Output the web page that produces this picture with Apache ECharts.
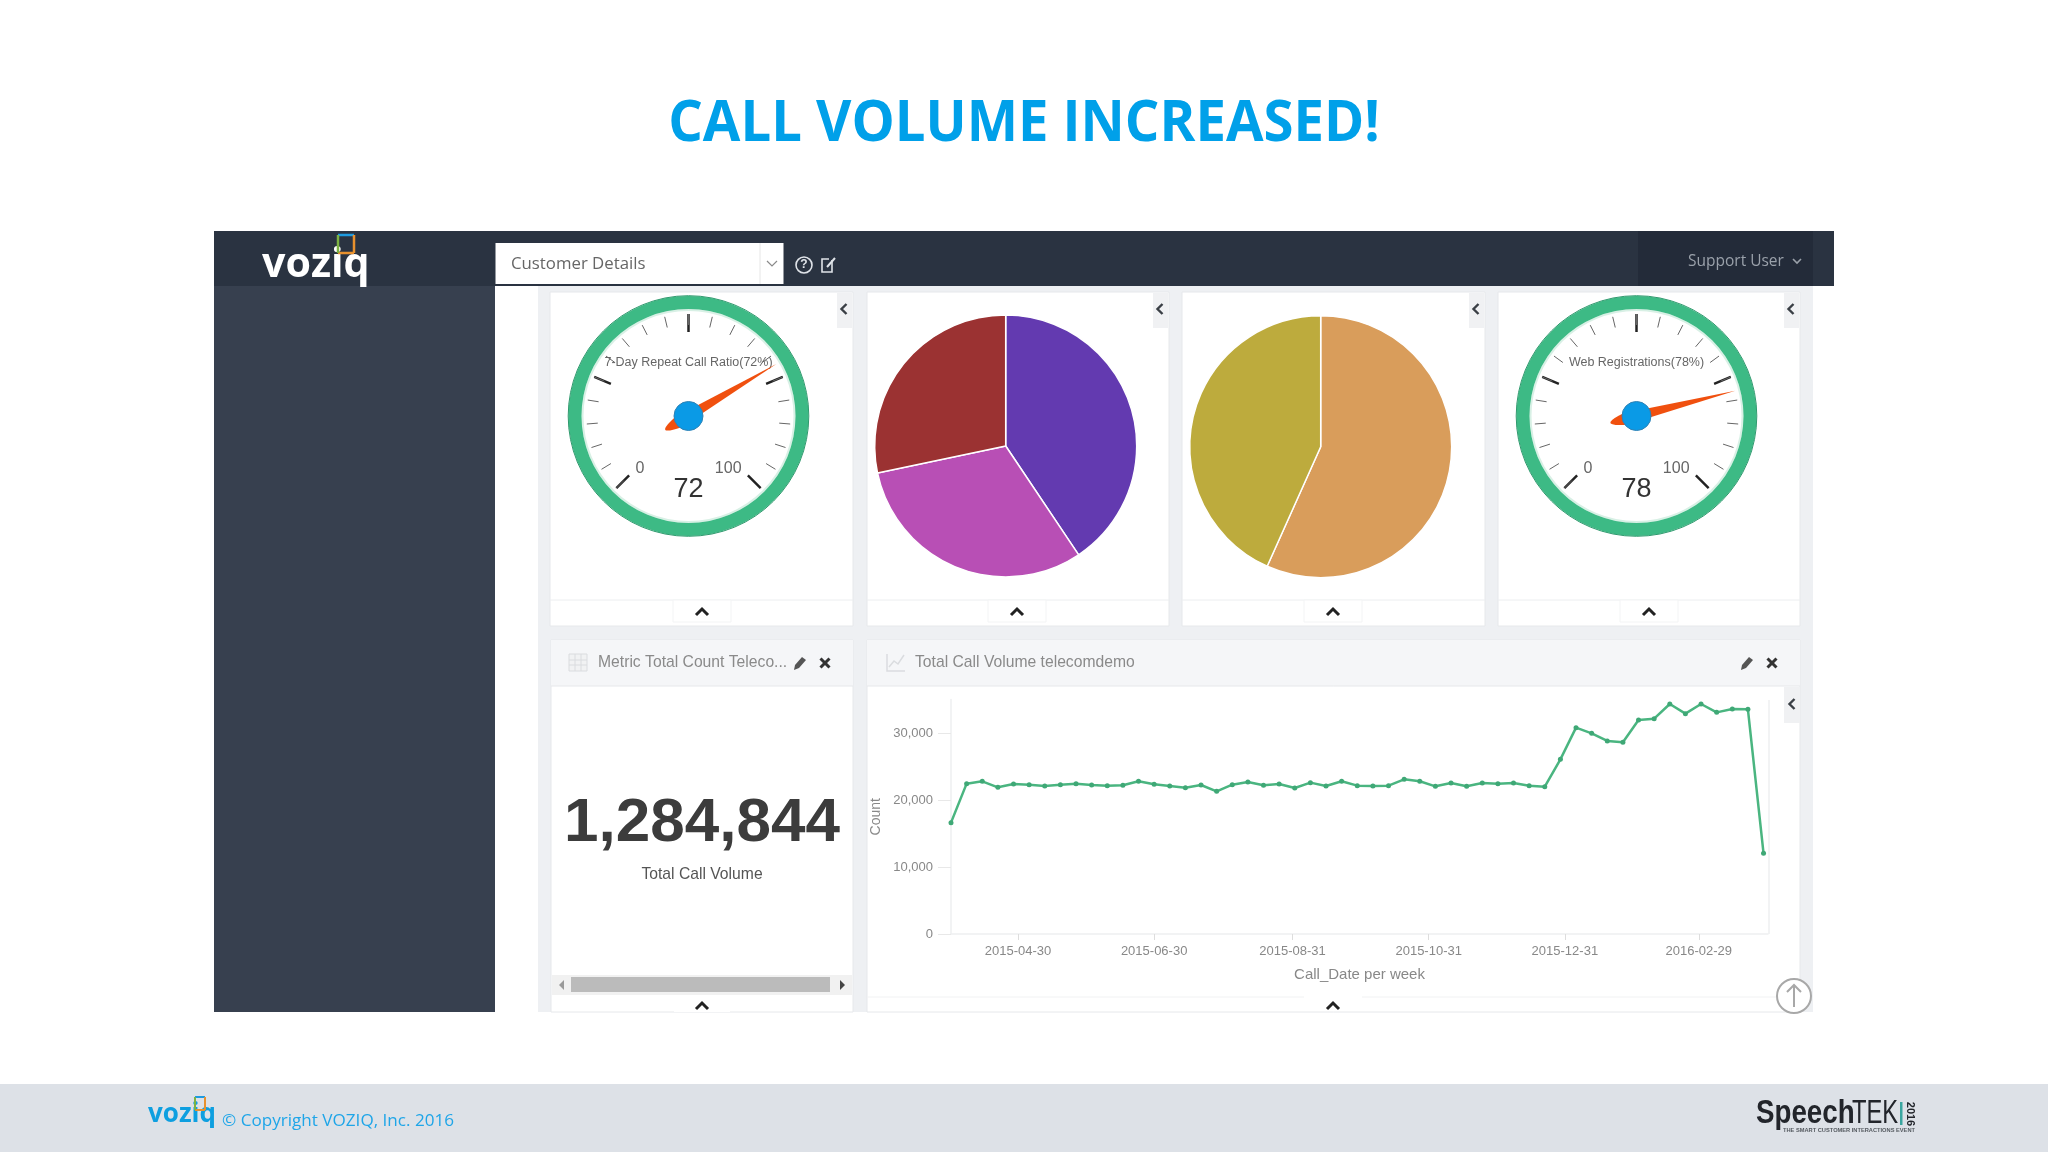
<!DOCTYPE html>
<html>
<head>
<meta charset="utf-8">
<title>Call Volume Increased</title>
<style>
    html, body { margin: 0; padding: 0; background: #fff; }
    #main { width: 2048px; height: 1152px; }
</style>
</head>
<body>
<div id="main"></div>
<script src="https://cdn.jsdelivr.net/npm/echarts@6/dist/echarts.min.js"></script>
<script>
    // weekly call counts
    var callDates = [
        '2015-03-31', '2015-04-07', '2015-04-14', '2015-04-21', '2015-04-28', '2015-05-05', '2015-05-12', '2015-05-19', '2015-05-26',
        '2015-06-02', '2015-06-09', '2015-06-16', '2015-06-23', '2015-06-30', '2015-07-07', '2015-07-14', '2015-07-21', '2015-07-28',
        '2015-08-04', '2015-08-11', '2015-08-18', '2015-08-25', '2015-09-01', '2015-09-08', '2015-09-15', '2015-09-22', '2015-09-29',
        '2015-10-06', '2015-10-13', '2015-10-20', '2015-10-27', '2015-11-03', '2015-11-10', '2015-11-17', '2015-11-24', '2015-12-01',
        '2015-12-08', '2015-12-15', '2015-12-22', '2015-12-29', '2016-01-05', '2016-01-12', '2016-01-19', '2016-01-26', '2016-02-02',
        '2016-02-09', '2016-02-16', '2016-02-23', '2016-03-01', '2016-03-08', '2016-03-15', '2016-03-22', '2016-03-29'
    ];
    var callCounts = [
        16620, 22440, 22790, 21890, 22390, 22290, 22090, 22290, 22440,
        22240, 22140, 22190, 22790, 22340, 22090, 21840, 22240, 21290,
        22290, 22690, 22190, 22390, 21790, 22590, 22090, 22790, 22140,
        22090, 22140, 23090, 22790, 22040, 22540, 22040, 22540, 22440,
        22540, 22140, 21990, 26070, 30800, 29950, 28810, 28610, 31940,
        32140, 34330, 32890, 34330, 33080, 33580, 33530, 12040
    ];
    var tickDates = ['2015-04-30', '2015-06-30', '2015-08-31', '2015-10-31', '2015-12-31', '2016-02-29'];
    var axisStart = '2015-03-31';
    var axisEnd = '2016-03-31';

    // gauges
    var gaugeNames = ['7-Day Repeat Call Ratio(72%)', 'Web Registrations(78%)'];
    var gaugeValues = [72, 78];
    var gaugeCenters = [[688.5, 416], [1636.5, 416]];

    // pies
    var pieLeftNames = ['Segment A', 'Segment B', 'Segment C'];
    var pieLeftValues = [40.6, 31.1, 28.3];
    var pieLeftColors = ['#633ab0', '#b84fb5', '#9b3232'];
    var pieRightNames = ['Segment A', 'Segment B'];
    var pieRightValues = [56.7, 43.3];
    var pieRightColors = ['#d99d5b', '#bdab3d'];

    var metricValue = '1,284,844';
    var metricLabel = 'Total Call Volume';

    var fontArial = '"Liberation Sans", Arial, sans-serif';
    var fontOpen = '"Open Sans", sans-serif';
    var chart = echarts.init(document.getElementById('main'), null, { renderer: 'canvas' });
    var g = [];

    function toTime(d) {
        return +echarts.time.parse(d);
    }
    function box(x, y, w, h, fill, stroke) {
        g.push({ type: 'rect', silent: true, shape: { x: x, y: y, width: w, height: h }, style: { fill: fill, stroke: stroke || null, lineWidth: 1 } });
    }
    function line(x1, y1, x2, y2, color, width) {
        g.push({ type: 'line', silent: true, shape: { x1: x1, y1: y1, x2: x2, y2: y2 }, style: { stroke: color, lineWidth: width || 1 } });
    }
    function poly(points, color, width) {
        g.push({ type: 'polyline', silent: true, shape: { points: points }, style: { stroke: color, lineWidth: width || 2, fill: null } });
    }
    function text(str, x, y, size, color, opt) {
        opt = opt || {};
        g.push({
            type: 'text', silent: true, x: x, y: y, scaleX: opt.scaleX || 1, rotation: opt.rotation || 0,
            style: {
                text: str, fill: color, align: opt.align || 'left', verticalAlign: 'middle',
                fontSize: size, fontFamily: opt.font || fontArial, fontWeight: opt.weight || 'normal'
            }
        });
    }
    function chevronLeft(x, y) {
        poly([[x + 2.5, y - 5], [x - 2.5, y], [x + 2.5, y + 5]], '#3a3f45', 2.4);
    }
    function chevronUp(x, y) {
        poly([[x - 6, y + 3], [x, y - 3], [x + 6, y + 3]], '#222', 3);
    }
    function pencil(x, y) {
        g.push({
            type: 'polygon', silent: true,
            shape: { points: [[x - 6, y + 7], [x - 5, y + 2], [x + 2, y - 6], [x + 6, y - 3], [x - 1, y + 5]] },
            style: { fill: '#555' }
        });
    }
    function cross(x, y) {
        line(x - 4.5, y - 4.5, x + 4.5, y + 4.5, '#333', 3);
        line(x + 4.5, y - 4.5, x - 4.5, y + 4.5, '#333', 3);
    }
    function logoMark(x, y, w, h, lw) {
        line(x, y, x + w, y, '#1e9be0', lw);
        line(x + w, y, x + w, y + h, '#e8912e', lw);
        line(x + w, y + h, x, y + h, '#e8912e', lw);
        line(x, y + h, x, y, '#7cb342', lw);
    }

    // slide title
    text('CALL VOLUME INCREASED!', 1024, 125, 57, '#00a0e9', { align: 'center', font: fontOpen, weight: 'bold', scaleX: 0.955 });

    // dashboard frame
    box(538, 286, 275, 726, '#eef0f3');
    box(813, 286, 1000, 726, '#eef0f3');
    box(214, 231, 281, 781, '#37404f');
    box(214, 231, 1620, 55, '#2a3341');
    box(1638, 231, 175, 55, '#232b39');
    text('voziq', 262, 265, 42, '#ffffff', { font: fontOpen, weight: 'bold', scaleX: 0.98 });
    logoMark(338, 235, 16, 18, 2.5);
    box(495.5, 243, 288, 41, '#ffffff');
    line(760, 243, 760, 284, '#e6e6e6', 1);
    text('Customer Details', 511, 264, 16.8, '#666666', { font: fontOpen });
    poly([[767, 261], [772, 266], [777, 261]], '#8a8a8a', 1.2);
    g.push({ type: 'circle', silent: true, shape: { cx: 804, cy: 265, r: 8 }, style: { fill: null, stroke: '#dfe3e8', lineWidth: 1.6 } });
    text('?', 804, 265, 12, '#dfe3e8', { align: 'center', weight: 'bold' });
    poly([[832, 260], [832, 272], [822, 272], [822, 259], [829, 259]], '#dfe3e8', 1.6);
    line(827, 267, 835, 258, '#dfe3e8', 2);
    text('Support User', 1688, 262, 15.5, '#9aa1aa', { font: fontOpen });
    poly([[1793, 259], [1797, 263], [1801, 259]], '#9aa1aa', 1.6);

    // top row panels
    var topPanels = [[550, 303], [867, 302], [1182, 303], [1498, 302]];
    var topChevrons = [702, 1017, 1333, 1649];
    for (var i = 0; i < topPanels.length; i++) {
        var px = topPanels[i][0], pw = topPanels[i][1];
        box(px, 292, pw, 334, '#ffffff', '#e6e8eb');
        line(px, 600, px + pw, 600, '#eceef0', 1);
        box(topChevrons[i] - 29, 600, 58, 22, '#ffffff', '#f3f4f5');
        chevronUp(topChevrons[i], 612);
        box(px + pw - 16, 293, 15, 35, '#f0f1f3');
        chevronLeft(px + pw - 9, 309);
    }

    // metric panel
    box(551, 640, 302, 372, '#ffffff', '#e6e8eb');
    box(551, 640, 302, 46, '#f5f6f8');
    line(551, 686, 853, 686, '#e6e8eb', 1);
    box(569, 654, 18, 17, '#f1f2f3', '#dadcdf');
    line(569, 660, 587, 660, '#dadcdf', 1);
    line(569, 665, 587, 665, '#dadcdf', 1);
    line(575, 654, 575, 671, '#dadcdf', 1);
    line(581, 654, 581, 671, '#dadcdf', 1);
    text('Metric Total Count Teleco...', 598, 663, 15.7, '#8a8a8a');
    pencil(800, 663);
    cross(825, 663);
    text(metricValue, 702, 824, 62, '#3c3c3c', { align: 'center', weight: 'bold' });
    text(metricLabel, 702, 875, 15.7, '#555555', { align: 'center' });
    box(552, 975, 300, 20, '#f1f1f1');
    box(571, 977, 259, 15, '#bbbbbb');
    g.push({ type: 'polygon', silent: true, shape: { points: [[564, 980], [564, 990], [559, 985]] }, style: { fill: '#9a9a9a' } });
    g.push({ type: 'polygon', silent: true, shape: { points: [[840, 980], [840, 990], [845, 985]] }, style: { fill: '#444444' } });
    box(674, 995, 56, 17, '#ffffff');
    chevronUp(702, 1006);

    // line chart panel
    box(867, 640, 933, 372, '#ffffff', '#e6e8eb');
    box(867, 640, 933, 46, '#f5f6f8');
    line(867, 686, 1800, 686, '#e6e8eb', 1);
    poly([[887, 654], [887, 671], [905, 671]], '#dadcdf', 1.5);
    poly([[889, 667], [894, 661], [898, 664], [904, 655]], '#dadcdf', 1.5);
    text('Total Call Volume telecomdemo', 915, 663, 15.7, '#8a8a8a');
    pencil(1747, 663);
    cross(1772, 663);
    box(1784, 687, 16, 36, '#f0f1f3');
    chevronLeft(1792, 704);
    line(867, 997, 1304, 997, '#f1f2f3', 1);
    line(1362, 997, 1800, 997, '#f1f2f3', 1);
    chevronUp(1333, 1006);
    line(1769, 700, 1769, 934, '#eeeff1', 1.5);
    g.push({ type: 'circle', silent: true, shape: { cx: 1794, cy: 996, r: 17 }, style: { fill: '#ffffff', stroke: '#a8a8a8', lineWidth: 2 } });
    poly([[1794, 1007], [1794, 985]], '#a8a8a8', 2);
    poly([[1787, 992], [1794, 985], [1801, 992]], '#a8a8a8', 2);

    // gauge rims, the needle and ticks sit on top of these
    for (var k = 0; k < gaugeCenters.length; k++) {
        g.push({
            type: 'ring', silent: true,
            shape: { cx: gaugeCenters[k][0], cy: gaugeCenters[k][1], r: 107, r0: 105 },
            style: { fill: '#d8f0e5' }
        });
        g.push({
            type: 'ring', silent: true,
            shape: { cx: gaugeCenters[k][0], cy: gaugeCenters[k][1], r: 120, r0: 107 },
            style: { fill: '#3dba85' }
        });
        g.push({
            type: 'circle', silent: true,
            shape: { cx: gaugeCenters[k][0], cy: gaugeCenters[k][1], r: 120.3 },
            style: { fill: null, stroke: '#2f9a6e', lineWidth: 1 }
        });
    }

    // footer band
    box(0, 1084, 2048, 68, '#dde1e7');
    text('voziq', 148, 1115, 26, '#0e9fe0', { font: fontOpen, weight: 'bold' });
    logoMark(195, 1097, 10, 13, 2);
    text('\u00a9 Copyright VOZIQ, Inc. 2016', 222, 1121, 17.1, '#1ea5e8', { font: fontOpen });
    text('Speech', 1756, 1114, 33, '#22252b', { weight: 'bold', scaleX: 0.84 });
    text('TEK', 1852, 1114, 33, '#22252b', { scaleX: 0.72 });
    box(1900, 1102, 2.5, 23, '#3aa6a0');
    text('2016', 1910, 1114, 11, '#22252b', { align: 'center', weight: 'bold', rotation: -Math.PI / 2 });
    text('THE SMART CUSTOMER INTERACTIONS EVENT', 1783, 1130, 5.7, '#555a60', { weight: 'bold' });

    function gaugeSeries(idx) {
        return {
            type: 'gauge',
            center: gaugeCenters[idx],
            radius: 102,
            min: 0,
            max: 100,
            startAngle: 225,
            endAngle: -45,
            splitNumber: 4,
            silent: true,
            animation: false,
            axisLine: { show: false, lineStyle: { width: 0 } },
            splitLine: { distance: 0, length: 18, lineStyle: { color: '#222222', width: 2.5 } },
            axisTick: { distance: 0, splitNumber: 5, length: 11, lineStyle: { color: '#666666', width: 1 } },
            axisLabel: {
                distance: 9,
                padding: [6, 0, 0, 0],
                fontSize: 16,
                color: '#666666',
                fontFamily: fontArial,
                formatter: function (v) { return v === 0 || v === 100 ? String(v) : ''; }
            },
            pointer: {
                icon: 'path://M50 0 L100 79 Q50 100 0 79 Z',
                length: 129,
                width: 12,
                offsetCenter: [0, 27],
                itemStyle: { color: '#f0500f' }
            },
            anchor: {
                show: true,
                showAbove: true,
                size: 29,
                icon: 'circle',
                itemStyle: { color: '#0a9ae6', borderColor: '#2f82b5', borderWidth: 1 }
            },
            title: { offsetCenter: [0, -53], fontSize: 12.5, color: '#666666', fontFamily: fontArial },
            detail: { offsetCenter: [0, 74], fontSize: 27, fontWeight: 'normal', color: '#333333', fontFamily: fontArial, formatter: '{value}', valueAnimation: false },
            data: [{ value: gaugeValues[idx], name: gaugeNames[idx] }]
        };
    }

    function pieSeries(center, names, values, colors) {
        return {
            type: 'pie',
            center: center,
            radius: 131,
            startAngle: 90,
            clockwise: true,
            silent: true,
            animation: false,
            label: { show: false },
            labelLine: { show: false },
            itemStyle: { borderColor: '#ffffff', borderWidth: 1.5 },
            data: names.map(function (n, i) {
                return { name: n, value: values[i], itemStyle: { color: colors[i] } };
            })
        };
    }

    var option = {
        backgroundColor: '#ffffff',
        animation: false,
        textStyle: { fontFamily: fontArial },
        graphic: { elements: g },
        grid: { left: 951, width: 817, top: 699.5, height: 234.5 },
        xAxis: {
            type: 'value',
            min: toTime(axisStart),
            max: toTime(axisEnd),
            name: 'Call_Date per week',
            nameLocation: 'middle',
            nameGap: 33,
            nameTextStyle: { fontSize: 15, color: '#888888' },
            axisLine: { lineStyle: { color: '#eeeff1', width: 1.5 } },
            axisTick: { length: 6, lineStyle: { color: '#dddddd' }, customValues: tickDates.map(toTime) },
            axisLabel: {
                margin: 11,
                fontSize: 13,
                color: '#888888',
                customValues: tickDates.map(toTime),
                formatter: function (v) { return echarts.time.format(v, '{yyyy}-{MM}-{dd}', false); }
            },
            splitLine: { show: false }
        },
        yAxis: {
            type: 'value',
            min: 0,
            max: 35000,
            interval: 10000,
            name: 'Count',
            nameLocation: 'middle',
            nameGap: 68,
            nameTextStyle: { fontSize: 14, color: '#888888' },
            axisLine: { show: true, lineStyle: { color: '#eeeff1', width: 1.5 } },
            axisTick: { show: true, length: 13, lineStyle: { color: '#e8e8e8' } },
            axisLabel: {
                margin: 18,
                fontSize: 13,
                color: '#888888',
                showMaxLabel: false,
                formatter: function (v) { return v.toLocaleString('en-US'); }
            },
            splitLine: { show: false }
        },
        series: [
            gaugeSeries(0),
            gaugeSeries(1),
            pieSeries([1005.7, 446], pieLeftNames, pieLeftValues, pieLeftColors),
            pieSeries([1320.7, 446.7], pieRightNames, pieRightValues, pieRightColors),
            {
                type: 'line',
                clip: false,
                silent: true,
                animation: false,
                symbol: 'circle',
                symbolSize: 5,
                lineStyle: { color: '#4ab580', width: 2.5 },
                itemStyle: { color: '#3fa876' },
                data: callDates.map(function (d, i) { return [toTime(d), callCounts[i]]; })
            }
        ]
    };
    chart.setOption(option);
</script>
</body>
</html>
